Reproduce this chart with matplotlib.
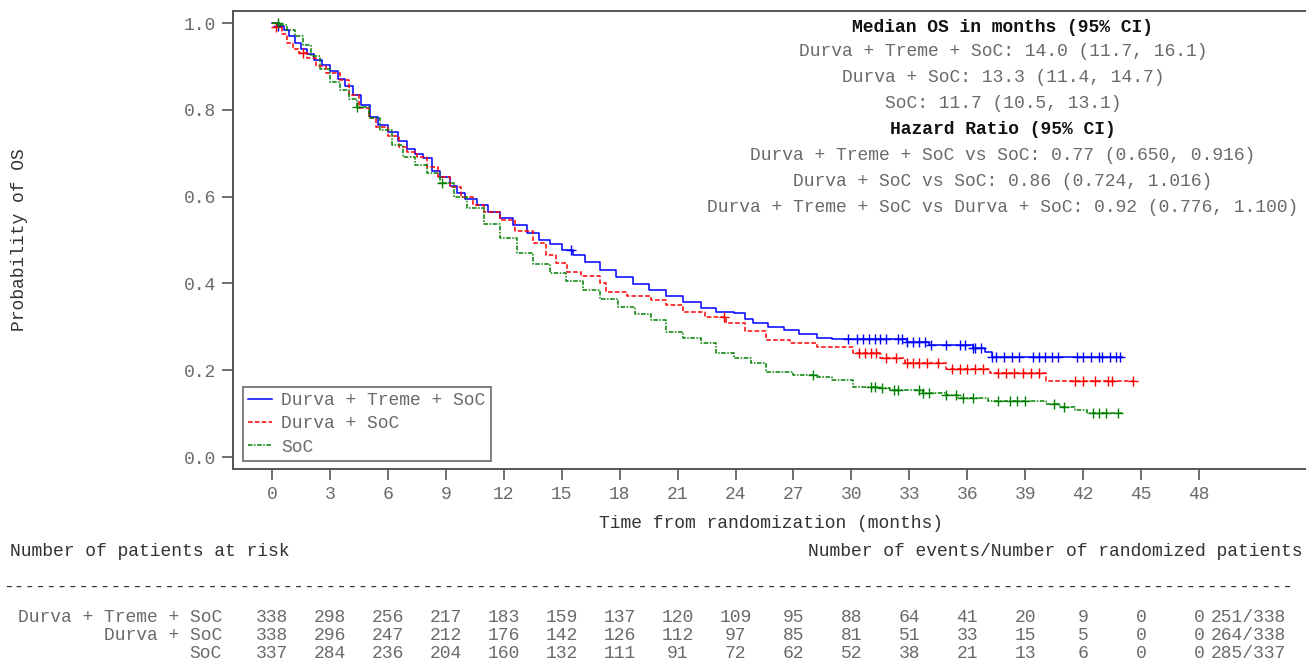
import numpy as np
import matplotlib
matplotlib.use("Agg")
import matplotlib.pyplot as plt
from matplotlib.transforms import blended_transform_factory

# ---------------- data ----------------
groups = ["Durva + Treme + SoC", "Durva + SoC", "SoC"]
colors = ["#0000ff", "#ff0000", "#008000"]

dts_t = [0, 0.3, 0.6, 0.9, 1.2, 1.5, 1.8, 2.2, 2.6, 3.0, 3.4, 3.8, 4.2, 4.6, 5.1, 5.5, 6.0,
         6.5, 7.0, 7.4, 7.8, 8.3, 8.7, 9.2, 9.6, 10.0, 10.6, 11.2, 11.8, 12.5, 13.2, 13.8,
         14.4, 15.0, 15.6, 16.2, 17.0, 17.8, 18.7, 19.5, 20.4, 21.3, 22.2, 23.0, 23.9, 24.5,
         24.9, 25.7, 26.5, 27.3, 28.2, 29.0, 32.9, 34.0, 36.3, 36.9, 37.3, 44.0]
dts_s = [1.0, 0.994, 0.985, 0.970, 0.955, 0.940, 0.928, 0.915, 0.903, 0.890, 0.872, 0.855,
         0.835, 0.810, 0.784, 0.765, 0.748, 0.728, 0.710, 0.698, 0.688, 0.660, 0.645, 0.625,
         0.608, 0.595, 0.581, 0.565, 0.550, 0.535, 0.515, 0.500, 0.490, 0.478, 0.465, 0.450,
         0.431, 0.415, 0.398, 0.385, 0.370, 0.357, 0.343, 0.335, 0.331, 0.318, 0.308, 0.300,
         0.293, 0.283, 0.274, 0.271, 0.265, 0.258, 0.252, 0.242, 0.231, 0.231]
dts_cens = [0.3, 15.5, 29.8, 30.3, 30.6, 30.9, 31.2, 31.5, 31.8, 32.4, 32.6, 32.9, 33.2,
            33.5, 33.8, 34.1, 34.9, 35.6, 35.9, 36.3, 36.4, 36.7, 37.3, 37.5, 37.9, 38.3,
            38.7, 39.4, 39.7, 40.0, 40.4, 40.7, 41.7, 42.0, 42.4, 42.8, 43.0, 43.4, 43.7, 43.9]

ds_t = [0, 0.2, 0.5, 0.8, 1.1, 1.4, 1.8, 2.3, 2.8, 3.5, 4.0, 4.5, 5.0, 5.4, 6.0, 6.6, 7.0,
        7.5, 8.0, 8.6, 9.2, 9.8, 10.4, 11.0, 11.8, 12.6, 13.5, 14.2, 14.7, 15.3, 16.0, 17.0,
        17.3, 18.4, 19.6, 20.4, 21.3, 22.4, 23.5, 24.5, 25.6, 26.8, 28.2, 30.1, 31.5, 32.8,
        34.9, 37.2, 40.1, 44.6]
ds_s = [1.0, 0.990, 0.975, 0.955, 0.940, 0.930, 0.920, 0.900, 0.885, 0.869, 0.835, 0.805,
        0.780, 0.761, 0.740, 0.715, 0.703, 0.692, 0.668, 0.645, 0.623, 0.600, 0.580, 0.565,
        0.546, 0.520, 0.493, 0.465, 0.446, 0.427, 0.418, 0.400, 0.381, 0.372, 0.362, 0.350,
        0.335, 0.322, 0.308, 0.290, 0.270, 0.262, 0.254, 0.240, 0.228, 0.217, 0.203, 0.194,
        0.176, 0.176]
ds_cens = [0.2, 1.6, 23.4, 30.4, 30.7, 31.0, 31.3, 31.8, 32.3, 32.9, 33.2, 33.5, 33.9,
           34.5, 35.2, 35.6, 36.0, 36.4, 36.8, 37.6, 38.0, 38.4, 38.9, 39.3, 39.7, 41.6,
           42.0, 42.6, 43.3, 43.5, 44.6]

soc_t = [0, 0.4, 0.8, 1.2, 1.6, 2.0, 2.5, 3.0, 3.5, 4.0, 4.4, 5.0, 5.6, 6.2, 6.8, 7.4, 8.0,
         8.7, 9.4, 10.1, 11.0, 11.8, 12.7, 13.5, 14.4, 15.2, 16.1, 17.0, 17.9, 18.8, 19.6,
         20.4, 21.3, 22.2, 23.0, 23.9, 24.8, 25.6, 27.0, 28.2, 29.0, 30.1, 31.5, 32.0, 33.7,
         34.9, 35.5, 37.1, 40.1, 40.8, 41.6, 42.2, 44.0]
soc_s = [1.0, 0.995, 0.985, 0.970, 0.950, 0.925, 0.895, 0.865, 0.845, 0.825, 0.807, 0.780,
         0.753, 0.720, 0.692, 0.672, 0.655, 0.631, 0.600, 0.573, 0.538, 0.505, 0.469, 0.445,
         0.423, 0.405, 0.385, 0.365, 0.346, 0.330, 0.316, 0.289, 0.275, 0.262, 0.239, 0.228,
         0.216, 0.197, 0.190, 0.185, 0.177, 0.162, 0.158, 0.154, 0.148, 0.142, 0.136, 0.129,
         0.122, 0.115, 0.108, 0.101, 0.101]
soc_cens = [0.3, 4.4, 8.8, 28.0, 31.0, 31.2, 31.6, 32.2, 32.4, 33.5, 33.7, 34.0, 34.9,
            35.4, 35.8, 36.3, 37.6, 38.2, 38.6, 39.0, 40.5, 41.0, 42.5, 42.8, 43.2, 43.8]

times_list = [dts_t, ds_t, soc_t]
surv_list = [dts_s, ds_s, soc_s]
cens_list = [dts_cens, ds_cens, soc_cens]

risk_times = list(range(0, 49, 3))
risk_dts = [338, 298, 256, 217, 183, 159, 137, 120, 109, 95, 88, 64, 41, 20, 9, 0, 0]
risk_ds = [338, 296, 247, 212, 176, 142, 126, 112, 97, 85, 81, 51, 33, 15, 5, 0, 0]
risk_soc = [337, 284, 236, 204, 160, 132, 111, 91, 72, 62, 52, 38, 21, 13, 6, 0, 0]
risk_list = [risk_dts, risk_ds, risk_soc]
events = ["251/338", "264/338", "285/337"]

median_lines = ["Durva + Treme + SoC: 14.0 (11.7, 16.1)",
                "Durva + SoC: 13.3 (11.4, 14.7)",
                "SoC: 11.7 (10.5, 13.1)"]
hr_lines = ["Durva + Treme + SoC vs SoC: 0.77 (0.650, 0.916)",
            "Durva + SoC vs SoC: 0.86 (0.724, 1.016)",
            "Durva + Treme + SoC vs Durva + SoC: 0.92 (0.776, 1.100)"]

# ---------------- figure ----------------
W, H = 1306, 668
FONT = "Liberation Mono"
FS = 13.0
GRAY = "#6a6a6a"
DARK = "#333333"
plt.rcParams["font.family"] = [FONT, "DejaVu Sans Mono"]

fig = plt.figure(figsize=(W / 100, H / 100), dpi=100)
ax_l, ax_r, ax_t, ax_b = 233, 1306, 11, 469
ax = fig.add_axes([ax_l / W, 1 - ax_b / H, (ax_r - ax_l) / W, (ax_b - ax_t) / H])

ppm = (1199 - 272) / 48.0
xmin = -(272 - ax_l) / ppm
xmax = xmin + (ax_r - ax_l) / ppm
ppu = (457 - 23) / 1.0
ymin = -(ax_b - 457) / ppu
ymax = 1 + (23 - ax_t) / ppu
ax.set_xlim(xmin, xmax)
ax.set_ylim(ymin, ymax)

styles = [dict(linestyle="-"), dict(linestyle=(0, (3, 1.5))), dict(linestyle=(0, (3, 1, 1, 1)))]
handles = []
for t, s, c, col, st, g in zip(times_list, surv_list, cens_list, colors, styles, groups):
    h, = ax.plot(t, s, drawstyle="steps-post", color=col, lw=1.1, label=g, **st)
    handles.append(h)
    t_arr = np.asarray(t)
    s_arr = np.asarray(s)
    idx = np.searchsorted(t_arr, np.asarray(c), side="right") - 1
    ax.plot(c, s_arr[idx], linestyle="none", marker="+", ms=7, mew=1.0, color=col)

for side in ["left", "bottom", "top"]:
    ax.spines[side].set_color("#555555")
    ax.spines[side].set_linewidth(1.4)
ax.spines["right"].set_visible(False)

ax.set_xticks(risk_times)
ax.set_yticks([0.0, 0.2, 0.4, 0.6, 0.8, 1.0])
ax.set_yticklabels(["0.0", "0.2", "0.4", "0.6", "0.8", "1.0"])
ax.tick_params(axis="both", direction="out", length=8, width=1.2, color="#555555",
               labelsize=FS, labelcolor=GRAY, pad=4)

leg = ax.legend(handles=handles, loc="lower left",
                bbox_to_anchor=((243 - ax_l) / (ax_r - ax_l), (ax_b - 461) / (ax_b - ax_t)),
                frameon=True, fancybox=False, edgecolor="#444444", fontsize=FS,
                handlelength=1.3, handletextpad=0.5, labelspacing=0.34, borderpad=0.3,
                borderaxespad=0)
leg.get_frame().set_linewidth(1.2)
for txt in leg.get_texts():
    txt.set_color(GRAY)

def fx(x):
    return x / W

def fy(y):
    return 1 - y / H

fig.text(fx(20), fy(240), "Probability of OS", rotation=90, ha="center", va="center",
         fontsize=FS, color=DARK)
fig.text(fx(771), fy(523), "Time from randomization (months)", ha="center", va="center",
         fontsize=FS, color=DARK)

# annotation block
cx = 1003
fig.text(fx(cx), fy(27), "Median OS in months (95% CI)", ha="center", va="center",
         fontsize=FS, color="#111111", fontweight="bold")
for i, line in enumerate(median_lines):
    fig.text(fx(cx), fy(51 + 26 * i), line, ha="center", va="center", fontsize=FS, color=GRAY)
fig.text(fx(cx), fy(129), "Hazard Ratio (95% CI)", ha="center", va="center",
         fontsize=FS, color="#111111", fontweight="bold")
for i, line in enumerate(hr_lines):
    fig.text(fx(cx), fy(155 + 26 * i), line, ha="center", va="center", fontsize=FS, color=GRAY)

# risk table
fig.text(fx(10), fy(552), "Number of patients at risk", ha="left", va="center",
         fontsize=FS, color=DARK)
fig.text(fx(1302), fy(552), "Number of events/Number of randomized patients", ha="right",
         va="center", fontsize=FS, color=DARK)
fig.text(fx(3), fy(587), "-" * 120, ha="left", va="center", fontsize=FS, color=DARK)

tr = blended_transform_factory(ax.transData, fig.transFigure)
row_y = [617, 635, 654]
for g, risks, ev, y in zip(groups, risk_list, events, row_y):
    fig.text(fx(222), fy(y), g, ha="right", va="center", fontsize=FS, color=GRAY)
    for t, n in zip(risk_times, risks):
        ax.text(t, fy(y), str(n), transform=tr, ha="center", va="center",
                fontsize=FS, color=GRAY, clip_on=False)
    fig.text(fx(1211), fy(y), ev, ha="left", va="center", fontsize=FS, color=GRAY)

fig.savefig("out.png", dpi=100)
